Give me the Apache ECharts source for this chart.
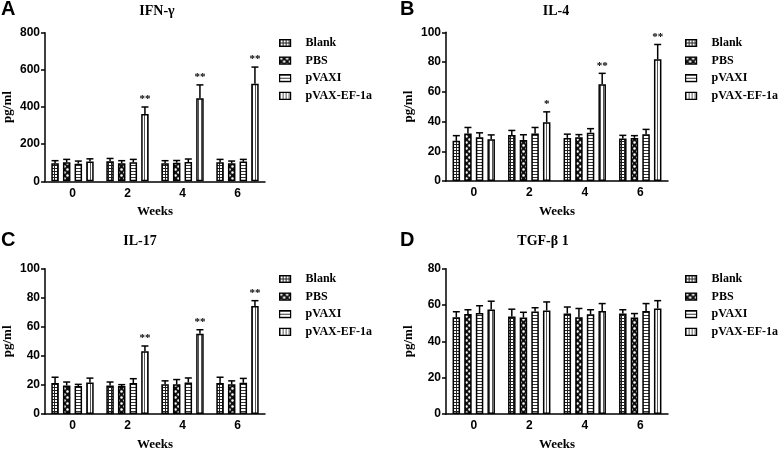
<!DOCTYPE html>
<html><head><meta charset="utf-8">
<script src="https://cdn.jsdelivr.net/npm/echarts@6/dist/echarts.min.js"></script>
<style>html,body{margin:0;padding:0;background:#fff}#c{width:778px;height:452px}</style>
</head><body><div id="c"></div>
<script>
// ---------------- DATA ----------------
const weeks = ['0', '2', '4', '6'];
const groups = ['Blank', 'PBS', 'pVAXI', 'pVAX-EF-1a'];
const panelTitles = ['IFN-γ', 'IL-4', 'IL-17', 'TGF-β 1'];
const panelLetters = ['A', 'B', 'C', 'D'];
const yMax = [800, 100, 100, 80];
const yStep = [200, 20, 20, 20];

// means per group (rows: Blank, PBS, pVAXI, pVAX-EF-1a), columns: weeks 0,2,4,6
const ifnMean = [[97, 108, 97, 103], [102, 97, 100, 97], [95, 102, 104, 106], [106, 362, 447, 525]];
const ifnErr  = [[14, 15, 14, 15], [16, 14, 12, 12], [14, 16, 16, 12], [15, 38, 72, 90]];
const ifnSig  = ['', '**', '**', '**'];

const il4Mean = [[27, 31, 29, 28.5], [32, 27.6, 29.4, 29], [29.4, 32, 32.5, 31.4], [28, 39.5, 65, 81.8]];
const il4Err  = [[3.5, 3, 2.5, 2.2], [4, 3.5, 1.8, 1.5], [3, 4, 2.7, 3.3], [3, 7, 7.4, 10]];
const il4Sig  = ['', '*', '**', '**'];

const il17Mean = [[21.3, 19.7, 20.4, 21.3], [19.7, 19.2, 20.4, 20.4], [19.2, 21.3, 21.7, 21.5], [21.7, 43.2, 55.3, 74.3]];
const il17Err  = [[4, 2.3, 2.4, 4], [2.3, 1, 3.3, 2.4], [1.2, 3, 3.1, 3], [3, 3.6, 2.7, 3.7]];
const il17Sig  = ['', '**', '**', '**'];

const tgfMean = [[53.3, 53.7, 55.3, 55.3], [55.1, 53.1, 53.3, 53.1], [55.6, 56.5, 54.9, 56.7], [57.6, 57, 56.7, 58.1]];
const tgfErr  = [[3, 4, 3.6, 2.1], [2.3, 2.9, 4.8, 2.2], [4, 2, 2.5, 4.1], [4.5, 4.7, 4.1, 4.3]];
const tgfSig  = ['', '', '', ''];

const panelMeans = [ifnMean, il4Mean, il17Mean, tgfMean];
const panelErrs = [ifnErr, il4Err, il17Err, tgfErr];
const panelSigs = [ifnSig, il4Sig, il17Sig, tgfSig];

// ---------------- STYLE / LAYOUT ----------------
const SERIF = '"Liberation Serif", "Times New Roman", serif';
const SANS = '"Liberation Sans", Arial, sans-serif';
const BAR_W = 7.5, BAR_GAP = 0.55, BAR_STEP = BAR_W * (1 + BAR_GAP);

const grids = [
  {left: 40, top: 32.7, width: 225, height: 148.6},
  {left: 446, top: 32.3, width: 222, height: 148.7},
  {left: 40, top: 268.7, width: 225, height: 149},
  {left: 446, top: 268.7, width: 222, height: 149}
];
const legendPos = [[279, 36.5], [685, 36.5], [279, 272.5], [685, 272.5]];
const titlePos = [[157, 11], [556, 11], [140, 241], [543, 241]];
const letterPos = [[1, 9], [400, 9], [1, 240], [400, 240]];

function mkCanvas(w, h, draw) {
  const c = document.createElement('canvas');
  c.width = w; c.height = h;
  const ctx = c.getContext('2d');
  draw(ctx);
  return {image: c, repeat: 'repeat'};
}
const patterns = [
  // Blank: fine grid
  mkCanvas(3, 3, ctx => { ctx.fillStyle = '#fff'; ctx.fillRect(0,0,3,3); ctx.fillStyle = '#222'; ctx.fillRect(0,0,3,1); ctx.fillRect(0,0,1,3); }),
  // PBS: black with white dots, staggered
  mkCanvas(6, 6, ctx => { ctx.fillStyle = '#111'; ctx.fillRect(0,0,6,6); ctx.fillStyle = '#fff';
    ctx.beginPath(); ctx.arc(1.5,1.5,1.25,0,Math.PI*2); ctx.fill();
    ctx.beginPath(); ctx.arc(4.5,4.5,1.25,0,Math.PI*2); ctx.fill(); }),
  // pVAXI: horizontal stripes
  mkCanvas(4, 3, ctx => { ctx.fillStyle = '#fff'; ctx.fillRect(0,0,4,3); ctx.fillStyle = '#333'; ctx.fillRect(0,0,4,1); }),
  // pVAX-EF-1a: vertical stripes
  mkCanvas(3, 4, ctx => { ctx.fillStyle = '#fff'; ctx.fillRect(0,0,3,4); ctx.fillStyle = '#555'; ctx.fillRect(0,0,1,4); })
];

const series = [];
const xAxes = [], yAxes = [], legends = [], graphics = [];

grids.forEach((g, p) => {
  xAxes.push({
    type: 'category', gridIndex: p, data: weeks,
    name: 'Weeks', nameLocation: 'middle', nameGap: 24,
    nameTextStyle: {fontFamily: SERIF, fontWeight: 'bold', fontSize: 13, color: '#000'},
    axisLine: {lineStyle: {color: '#000', width: 1.5}},
    axisTick: {alignWithLabel: true, length: 4, lineStyle: {color: '#000', width: 1.5}},
    axisLabel: {fontFamily: SANS, fontWeight: 'bold', fontSize: 12, color: '#000', margin: 6}
  });
  yAxes.push({
    type: 'value', gridIndex: p, min: 0, max: yMax[p], interval: yStep[p],
    name: 'pg/ml', nameLocation: 'middle', nameGap: 31,
    nameTextStyle: {fontFamily: SERIF, fontWeight: 'bold', fontSize: 13, color: '#000'},
    axisLine: {show: true, lineStyle: {color: '#000', width: 1.5}},
    axisTick: {show: true, length: 4, lineStyle: {color: '#000', width: 1.5}},
    axisLabel: {fontFamily: SANS, fontWeight: 'bold', fontSize: 12, color: '#000', margin: 5},
    splitLine: {show: false}
  });
  legends.push({
    orient: 'vertical', left: legendPos[p][0], top: legendPos[p][1], padding: 0,
    itemWidth: 11, itemHeight: 7, itemGap: 4.6, icon: 'rect',
    data: groups, selectedMode: false,
    itemStyle: {borderColor: '#000', borderWidth: 1.2},
    textStyle: {fontFamily: SERIF, fontWeight: 'bold', fontSize: 12, color: '#000', lineHeight: 13, padding: [0, 0, 0, 10]}
  });
  groups.forEach((name, gi) => {
    series.push({
      type: 'bar', name, xAxisIndex: p, yAxisIndex: p,
      data: panelMeans[p][gi], barWidth: BAR_W, barGap: (BAR_GAP * 100) + '%',
      itemStyle: {color: patterns[gi], borderColor: '#000', borderWidth: 1.5},
      emphasis: {disabled: true}, animation: false, z: 2
    });
  });
  groups.forEach((name, gi) => {
    const means = panelMeans[p][gi], errs = panelErrs[p][gi];
    const sig = gi === 3 ? panelSigs[p] : ['', '', '', ''];
    series.push({
      type: 'custom', xAxisIndex: p, yAxisIndex: p, z: 3, animation: false,
      silent: true,
      data: means.map((m, i) => [i, m, m + errs[i]]),
      renderItem(params, api) {
        const b = api.coord([api.value(0), api.value(1)]);
        const t = api.coord([api.value(0), api.value(2)]);
        const x = b[0] + (gi - 1.5) * BAR_STEP;
        const ch = [
          {type: 'line', shape: {x1: x, y1: b[1], x2: x, y2: t[1]}, style: {stroke: '#000', lineWidth: 1.5}},
          {type: 'line', shape: {x1: x - 3.5, y1: t[1], x2: x + 3.5, y2: t[1]}, style: {stroke: '#000', lineWidth: 1.5}}
        ];
        const s = sig[params.dataIndex];
        if (s) ch.push({type: 'text', x: x, y: t[1] - 2, style: {text: s, fill: '#000',
          font: 'bold 11px ' + SERIF, textAlign: 'center', textVerticalAlign: 'bottom'}});
        return {type: 'group', children: ch};
      }
    });
  });
  graphics.push({type: 'text', x: titlePos[p][0], y: titlePos[p][1], style: {text: panelTitles[p], fill: '#000',
    font: 'bold 14px ' + SERIF, textAlign: 'center', textVerticalAlign: 'middle'}});
  graphics.push({type: 'text', x: letterPos[p][0], y: letterPos[p][1], style: {text: panelLetters[p], fill: '#000',
    font: 'bold 20px ' + SANS, textAlign: 'left', textVerticalAlign: 'middle'}});
});

const chart = echarts.init(document.getElementById('c'));
chart.setOption({
  animation: false,
  backgroundColor: '#fff',
  grid: grids.map(g => Object.assign({containLabel: false}, g)),
  xAxis: xAxes, yAxis: yAxes, legend: legends, series, graphic: graphics
});
</script></body></html>
